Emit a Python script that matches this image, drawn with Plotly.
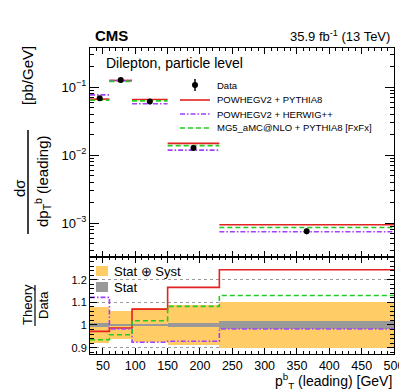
import plotly.graph_objects as go

# bins of leading b-jet pT [GeV]
bin_edges = [30, 60, 95, 150, 230, 500]

# measured cross section [pb/GeV]
data_xsec = [0.069, 0.128, 0.062, 0.0128, 0.00076]
# relative uncertainties
unc_total = [0.08, 0.06, 0.075, 0.087, 0.10]
unc_stat = [0.008, 0.006, 0.006, 0.008, 0.016]

# theory / data ratios
ratio_pwg_py8 = [0.972, 0.987, 1.07, 1.166, 1.244]
ratio_pwg_hw = [1.122, 0.982, 0.924, 0.928, 0.982]
ratio_mg5_py8 = [0.935, 0.957, 1.019, 1.082, 1.13]

models = [
    ("POWHEGV2 + PYTHIA8", ratio_pwg_py8, "#E32222", "solid"),
    ("POWHEGV2 + HERWIG++", ratio_pwg_hw, "#A040FF", "5px,2px,1.5px,2px"),
    ("MG5_aMC@NLO + PYTHIA8 [FxFx]", ratio_mg5_py8, "#22CC22", "5px,3px"),
]

centers = [(lo + hi) / 2 for lo, hi in zip(bin_edges[:-1], bin_edges[1:])]
widths = [hi - lo for lo, hi in zip(bin_edges[:-1], bin_edges[1:])]

FONT = "Liberation Sans, Arial, Helvetica, sans-serif"
W, H = 407, 391
L, R, T, B = 82, 21, 40, 45


def px(x):
    return (x - L) / (W - L - R)


def py(y):
    return (H - B - y) / (H - T - B)


split = py(249)

fig = go.Figure()

# ratio panel bands
fig.add_trace(go.Bar(
    x=centers, y=[2 * u for u in unc_total], base=[1 - u for u in unc_total],
    width=widths, marker=dict(color="#FFCC66", line_width=0),
    xaxis="x2", yaxis="y2", showlegend=False, hoverinfo="skip"))
fig.add_trace(go.Bar(
    x=centers, y=[2 * u for u in unc_stat], base=[1 - u for u in unc_stat],
    width=widths, marker=dict(color="#999999", line_width=0),
    xaxis="x2", yaxis="y2", showlegend=False, hoverinfo="skip"))

for name, ratio, color, dash in models:
    # upper panel: one horizontal segment per bin
    xs, ys = [], []
    for i, r in enumerate(ratio):
        xs += [bin_edges[i], bin_edges[i + 1], None]
        ys += [data_xsec[i] * r, data_xsec[i] * r, None]
    fig.add_trace(go.Scatter(x=xs, y=ys, mode="lines", name=name,
                             line=dict(color=color, width=1.6, dash=dash),
                             xaxis="x", yaxis="y", showlegend=False))
    # ratio panel: step line
    fig.add_trace(go.Scatter(x=bin_edges, y=ratio + [ratio[-1]], mode="lines",
                             line=dict(color=color, width=1.6, dash=dash, shape="hv"),
                             xaxis="x2", yaxis="y2", showlegend=False))

fig.add_trace(go.Scatter(
    x=centers, y=data_xsec, mode="markers", name="Data",
    marker=dict(color="black", size=6),
    error_y=dict(type="data", array=[d * u for d, u in zip(data_xsec, unc_total)],
                 color="black", thickness=1.5, width=0),
    xaxis="x", yaxis="y", showlegend=False))

minor_log = [k * 10 ** e for e in range(-4, 0) for k in range(2, 10)]

axis_common = dict(showline=True, linecolor="black", linewidth=1, mirror="ticks",
                   ticks="inside", tickcolor="black", zeroline=False, automargin=False,
                   tickfont=dict(family=FONT, size=12, color="black"))

fig.update_layout(
    width=W, height=H,
    margin=dict(l=L, r=R, t=T, b=B),
    paper_bgcolor="white", plot_bgcolor="white",
    barmode="overlay", bargap=0,
    font=dict(family=FONT, color="black"),
    xaxis=dict(domain=[0, 1], anchor="y", range=[30, 500], showticklabels=False,
               tick0=50, dtick=50, ticklen=6, showgrid=False,
               minor=dict(ticks="inside", dtick=10, tick0=30, ticklen=3, tickcolor="black"),
               **axis_common),
    yaxis=dict(domain=[split, 1], anchor="x", type="log", range=[-3.5, -0.42],
               tickvals=[1e-3, 1e-2, 1e-1],
               ticktext=["10<sup>−3</sup>", "10<sup>−2</sup>", "10<sup>−1</sup>"],
               ticklen=9, showgrid=False,
               minor=dict(ticks="inside", tickvals=minor_log, ticklen=4, tickcolor="black"),
               **{**axis_common, "tickfont": dict(family=FONT, size=13, color="black")}),
    xaxis2=dict(domain=[0, 1], anchor="y2", range=[30, 500], tick0=50, dtick=50,
                ticklen=6, showgrid=False,
                minor=dict(ticks="inside", dtick=10, tick0=30, ticklen=3, tickcolor="black"),
                **{**axis_common, "tickfont": dict(family=FONT, size=12.5, color="black")}),
    yaxis2=dict(domain=[0, split], anchor="x2", range=[0.872, 1.3],
                tickvals=[0.9, 1.0, 1.1, 1.2], ticktext=["0.9", "1", "1.1", "1.2"],
                ticklen=7, showgrid=True, gridcolor="#9a9a9a", griddash="dot", gridwidth=1,
                minor=dict(ticks="inside", dtick=0.02, ticklen=4, tickcolor="black"),
                **{**axis_common, "tickfont": dict(family=FONT, size=11, color="black")}),
)

shapes = []
ann = []


def text(x, y, s, size, anchor="left", angle=0, bold=False, yanchor="middle"):
    if bold:
        s = "<b>" + s + "</b>"
    ann.append(dict(x=px(x), y=py(y), xref="paper", yref="paper", text=s,
                    showarrow=False, xanchor=anchor, yanchor=yanchor, textangle=angle,
                    font=dict(family=FONT, size=size, color="black")))


# header
text(85, 28, "CMS", 15, bold=True)
text(384, 28, "35.9 fb<sup>-1</sup> (13 TeV)", 13, anchor="right")
text(96, 55, "Dilepton, particle level", 14)

# upper legend
leg_y = [77, 92, 106, 120]
shapes.append(dict(type="line", xref="paper", yref="paper",
                   x0=px(187), x1=px(187), y0=py(71), y1=py(83),
                   line=dict(color="black", width=1.5)))
shapes.append(dict(type="circle", xref="paper", yref="paper", fillcolor="black",
                   x0=px(184), x1=px(190), y0=py(74), y1=py(80),
                   line=dict(color="black", width=0)))
text(207, leg_y[0], "Data", 9.5)
for (name, ratio, color, dash), yy in zip(models, leg_y[1:]):
    shapes.append(dict(type="line", xref="paper", yref="paper",
                       x0=px(172), x1=px(202), y0=py(yy), y1=py(yy),
                       line=dict(color=color, width=1.6, dash=dash)))
    text(207, yy, name, 9.5)

# ratio legend
shapes.append(dict(type="rect", xref="paper", yref="paper", layer="between",
                   x0=px(83), x1=px(170), y0=py(253), y1=py(287),
                   fillcolor="white", line_width=0))
shapes.append(dict(type="rect", xref="paper", yref="paper",
                   x0=px(88), x1=px(100), y0=py(258), y1=py(268),
                   fillcolor="#FFCC66", line_width=0))
shapes.append(dict(type="rect", xref="paper", yref="paper",
                   x0=px(88), x1=px(100), y0=py(274), y1=py(284),
                   fillcolor="#999999", line_width=0))
text(104, 263, "Stat ⊕ Syst", 13)
text(104, 279, "Stat", 13)

# axis titles
text(11, 180, "dσ", 15, anchor="center", angle=-90)
shapes.append(dict(type="line", xref="paper", yref="paper",
                   x0=px(20), x1=px(20), y0=py(122), y1=py(226),
                   line=dict(color="black", width=1.5)))
text(34, 173, "dp<sub>T</sub><sup>b</sup> (leading)", 15, anchor="center", angle=-90)
text(19, 68, "[pb/GeV]", 15, anchor="center", angle=-90)

text(19, 297, "Theory", 13, anchor="center", angle=-90)
shapes.append(dict(type="line", xref="paper", yref="paper",
                   x0=px(27), x1=px(27), y0=py(277), y1=py(318),
                   line=dict(color="black", width=1.2)))
text(35, 297, "Data", 13, anchor="center", angle=-90)

text(386, 361, "p<sup>b</sup><sub>T</sub> (leading) [GeV]", 14, anchor="right", yanchor="top")

fig.update_layout(shapes=shapes, annotations=ann)

fig.write_html("out.html")
